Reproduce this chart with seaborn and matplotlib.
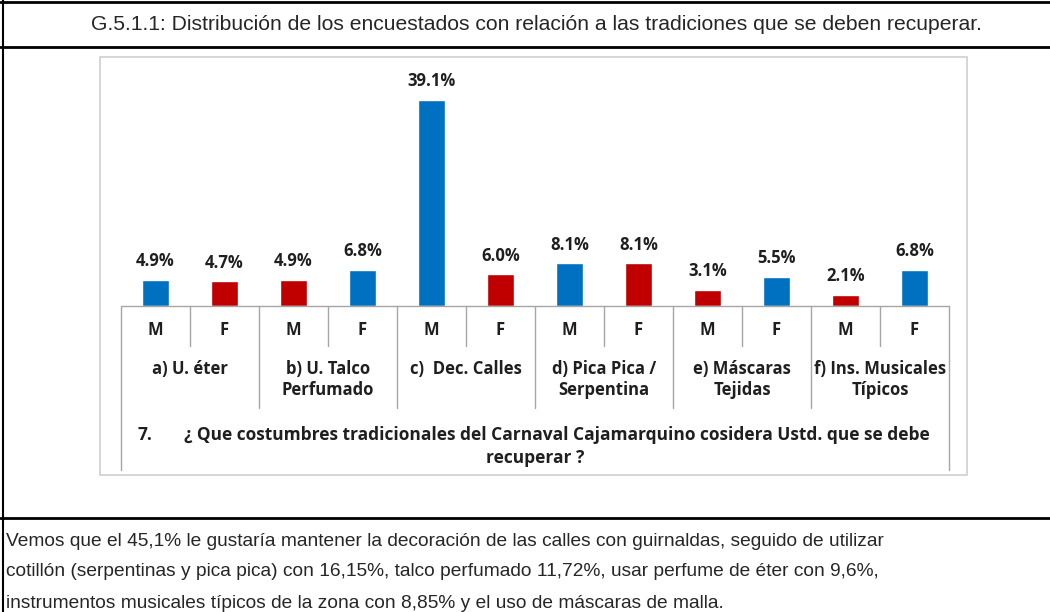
import matplotlib
matplotlib.use("Agg")
import matplotlib.pyplot as plt
from matplotlib.lines import Line2D
from matplotlib.patches import Rectangle
import seaborn as sns
import pandas as pd

# data
groups = ["a) U. éter", "b) U. Talco\nPerfumado", "c)  Dec. Calles",
          "d) Pica Pica /\nSerpentina", "e) Máscaras\nTejidas", "f) Ins. Musicales\nTípicos"]
sexes = ["M", "F"]
values = [4.9, 4.7, 4.9, 6.8, 39.1, 6.0, 8.1, 8.1, 3.1, 5.5, 2.1, 6.8]
bar_colors = ["#0070C0", "#C00000", "#C00000", "#0070C0", "#0070C0", "#C00000",
              "#0070C0", "#C00000", "#C00000", "#0070C0", "#C00000", "#0070C0"]
title = "G.5.1.1: Distribución de los encuestados con relación a las tradiciones que se deben recuperar."
question_no = "7."
question = ["¿ Que costumbres tradicionales del Carnaval Cajamarquino cosidera Ustd. que se debe",
            "recuperar ?"]
comment = ["Vemos que el 45,1% le gustaría mantener la decoración de las calles con guirnaldas, seguido de utilizar",
           "cotillón (serpentinas y pica pica) con 16,15%, talco perfumado 11,72%, usar perfume de éter con 9,6%,",
           "instrumentos musicales típicos de la zona con 8,85% y el uso de máscaras de malla."]

df = pd.DataFrame({
    "slot": [f"{g}|{s}" for g in groups for s in sexes],
    "pct": values,
})

sns.set_theme(style="white")
W, H = 1050, 612
fig = plt.figure(figsize=(W / 100, H / 100), dpi=100)

def fx(px):
    return px / W

def fy(py):
    return 1 - py / H

body_font = ["Liberation Sans", "DejaVu Sans"]
chart_font = ["Open Sans", "DejaVu Sans"]
ink = "#1f1f1f"

# outer table lines
for (x0, y0, x1, y1, lw) in [(0, 1.5, W, 1.5, 2), (0, 47, W, 47, 2), (0, 518, W, 518, 2),
                             (2.5, 0, 2.5, H, 1.5)]:
    fig.add_artist(Line2D([fx(x0), fx(x1)], [fy(y0), fy(y1)], color="black", lw=lw))

fig.text(fx(536), fy(24), title, ha="center", va="center", fontsize=15.2, family=body_font)

# chart frame
fig.add_artist(Rectangle((fx(100), fy(475)), fx(867), (475 - 57) / H, fill=False,
                         edgecolor="#cfcfcf", lw=1.2))

ax = fig.add_axes([fx(121), fy(306), fx(949 - 121), (306 - 60) / H])
sns.barplot(data=df, x="slot", y="pct", hue="slot", palette=bar_colors, legend=False,
            width=0.4, saturation=1, ax=ax)
ax.set_ylim(0, 46.7)
ax.set_xlim(-0.5, len(values) - 0.5)
sns.despine(ax=ax, left=True, top=True, right=True, bottom=True)
ax.set_xticks([])
ax.set_yticks([])
ax.set_xlabel("")
ax.set_ylabel("")
ax.patch.set_alpha(0)

for i, v in enumerate(values):
    ax.annotate(f"{v:.1f}%", (i, v), xytext=(0, 7), textcoords="offset points",
                ha="center", va="bottom", fontsize=12, fontweight="bold",
                family=chart_font, color=ink)

# category table below the bars (axes-fraction y, 1 unit = axes height)
ah = 306 - 60

def ay(py):
    return (306 - py) / ah

trans = ax.get_xaxis_transform()
grid = "#a6a6a6"
ax.plot([-0.5, len(values) - 0.5], [0, 0], transform=trans, color=grid, lw=1, clip_on=False)
for k in range(len(values) + 1):
    xb = k - 0.5
    if k == 0 or k == len(values):
        bottom = 470
    elif k % 2 == 0:
        bottom = 408
    else:
        bottom = 346
    ax.plot([xb, xb], [0, ay(bottom)], transform=trans, color=grid, lw=1, clip_on=False)

for i in range(len(values)):
    ax.text(i, ay(330), sexes[i % 2], transform=trans, ha="center", va="center",
            fontsize=12, fontweight="bold", family=chart_font, color=ink)
for j, g in enumerate(groups):
    ax.text(2 * j + 0.5, ay(360), g, transform=trans, ha="center", va="top",
            fontsize=12, fontweight="bold", family=chart_font, color=ink,
            linespacing=1.2)

# question block: number at left, text centred in the remaining width
fig.text(fx(137), fy(435), question_no, ha="left", va="center", fontsize=12.5,
         fontweight="bold", family=chart_font, color=ink)
fig.text(fx(557), fy(435), question[0], ha="center", va="center", fontsize=12.5,
         fontweight="bold", family=chart_font, color=ink)
fig.text(fx(535), fy(458), question[1], ha="center", va="center", fontsize=12.5,
         fontweight="bold", family=chart_font, color=ink)

for n, line in enumerate(comment):
    fig.text(fx(6), fy(541 + 31 * n), line, ha="left", va="center", fontsize=13.8,
             family=body_font)

fig.savefig("out.png", dpi=100)
